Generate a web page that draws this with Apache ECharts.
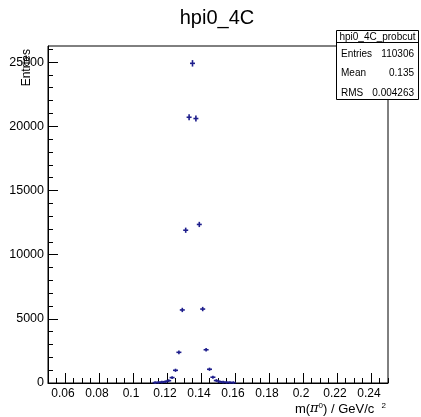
<!DOCTYPE html>
<html><head><meta charset="utf-8">
<script src="https://cdn.jsdelivr.net/npm/echarts@6/dist/echarts.min.js"></script>
<style>html,body{margin:0;padding:0;background:#fff}#c{width:421px;height:417px}</style>
</head><body><div id="c"></div>
<script>
// ---- data ----
const chartTitle = 'hpi0_4C';
const binCenters = [0.113,0.115,0.117,0.119,0.121,0.123,0.125,0.127,0.129,0.131,0.133,0.135,0.137,0.139,0.141,0.143,0.145,0.147,0.149,0.151,0.153,0.155,0.157,0.159];
const entries    = [30,50,70,100,180,420,990,2390,5690,11900,20700,24900,20600,12350,5760,2590,1070,450,190,100,70,50,40,30];
const BIN_WIDTH = 0.002;
const xTickLabels = [0.06,0.08,0.1,0.12,0.14,0.16,0.18,0.2,0.22,0.24];
const yTickLabels = [0,5000,10000,15000,20000,25000];
const statsTitle = 'hpi0_4C_probcut';
const statsNames = ['Entries','Mean','RMS'];
const statsValues = ['110306','0.135','0.004263'];
const yAxisTitle = 'Entries';

const X_MIN = 0.05, X_MAX = 0.25, Y_MIN = 0, Y_MAX = 26250;
const xMinor = [], yMinor = [];
for (let i = 0; i <= 40; i++) xMinor.push(Number((X_MIN + 0.005 * i).toFixed(3)));
for (let v = 0; v <= Y_MAX; v += 1000) yMinor.push(v);

const FONT = 'Liberation Sans';
const MARK = '#1e1e8c';

const chart = echarts.init(document.getElementById('c'), null, {renderer: 'canvas'});
const seriesData = binCenters.map((x, i) => [x, entries[i], Math.sqrt(entries[i])]);

const option = {
  animation: false,
  backgroundColor: '#fff',
  grid: {left: 48, right: 33, top: 46, bottom: 34, show: true, borderColor: '#000', borderWidth: 1, backgroundColor: 'transparent'},
  xAxis: [
    {type: 'value', min: X_MIN, max: X_MAX, position: 'bottom',
     axisLine: {show: true, lineStyle: {color: '#000', width: 1}},
     axisTick: {show: true, inside: true, length: 10, customValues: xTickLabels, lineStyle: {color: '#000', width: 1}},
     axisLabel: {customValues: xTickLabels, color: '#000', fontSize: 12, fontFamily: FONT, margin: 5, padding: [0, 4, 0, 0], formatter: v => String(v)},
     splitLine: {show: false}},
    {type: 'value', min: X_MIN, max: X_MAX, position: 'bottom',
     axisLine: {show: false},
     axisTick: {show: true, inside: true, length: 5, customValues: xMinor, lineStyle: {color: '#000', width: 1}},
     axisLabel: {show: false}, splitLine: {show: false}}
  ],
  yAxis: [
    {type: 'value', min: Y_MIN, max: Y_MAX, position: 'left',
     axisLine: {show: true, lineStyle: {color: '#000', width: 1}},
     axisTick: {show: true, inside: true, length: 10, customValues: yTickLabels, lineStyle: {color: '#000', width: 1}},
     axisLabel: {customValues: yTickLabels, color: '#000', fontSize: 12.5, fontFamily: FONT, margin: 4, formatter: v => String(v)},
     splitLine: {show: false}},
    {type: 'value', min: Y_MIN, max: Y_MAX, position: 'left',
     axisLine: {show: false},
     axisTick: {show: true, inside: true, length: 5, customValues: yMinor, lineStyle: {color: '#000', width: 1}},
     axisLabel: {show: false}, splitLine: {show: false}}
  ],
  series: [{
    type: 'custom', xAxisIndex: 0, yAxisIndex: 0,
    encode: {x: 0, y: 1},
    data: seriesData,
    renderItem: function (params, api) {
      const x = api.value(0), y = api.value(1), e = api.value(2);
      const c = api.coord([x, y]);
      const l = api.coord([x - BIN_WIDTH / 2, y]);
      const r = api.coord([x + BIN_WIDTH / 2, y]);
      const t = api.coord([x, y + e]);
      const b = api.coord([x, y - e]);
      const hw = Math.max((r[0] - l[0]) / 2, 2.5);
      const top = t[1] - 1.2;
      const bot = b[1] + 1.2;
      const st = {stroke: MARK, lineWidth: 1.6};
      return {type: 'group', children: [
        {type: 'line', shape: {x1: c[0] - hw, y1: c[1], x2: c[0] + hw, y2: c[1]}, style: st},
        {type: 'line', shape: {x1: c[0], y1: top, x2: c[0], y2: bot}, style: st}
      ]};
    }
  }],
  graphic: [
    {type: 'text', x: 217, y: 18, style: {text: chartTitle, font: '20px "Liberation Sans"', fill: '#000', align: 'center', verticalAlign: 'middle'}},
    {type: 'text', x: 27, y: 49, rotation: Math.PI / 2, style: {text: yAxisTitle, font: '12px "Liberation Sans"', fill: '#000', align: 'right', verticalAlign: 'middle'}},
    {type: 'text', x: 386, y: 409, style: {
      text: '{n|m(}{p|π}{s|0}{n|) / GeV/c  }{s|2}', align: 'right', verticalAlign: 'middle',
      rich: {
        n: {fontSize: 13, fontFamily: FONT, fill: '#000', lineHeight: 15},
        p: {fontSize: 13, fontFamily: 'DejaVu Serif', fontStyle: 'italic', fill: '#000', lineHeight: 15},
        s: {fontSize: 8, fontFamily: FONT, fill: '#000', verticalAlign: 'top', lineHeight: 15}
      }}},
    // stats box
    {type: 'rect', z: 100, shape: {x: 336.5, y: 30.5, width: 82, height: 69}, style: {fill: '#fff', stroke: '#000', lineWidth: 1}},
    {type: 'line', z: 101, shape: {x1: 336.5, y1: 42.5, x2: 418.5, y2: 42.5}, style: {stroke: '#000', lineWidth: 1}},
    {type: 'text', z: 102, x: 377.5, y: 37, style: {text: statsTitle, font: '10px "Liberation Sans"', fill: '#000', align: 'center', verticalAlign: 'middle'}},
    ...statsNames.map((nm, i) => ({type: 'text', z: 102, x: 341, y: 54 + i * 19.5, style: {text: nm, font: '10px "Liberation Sans"', fill: '#000', align: 'left', verticalAlign: 'middle'}})),
    ...statsValues.map((vl, i) => ({type: 'text', z: 102, x: 414, y: 54 + i * 19.5, style: {text: vl, font: '10px "Liberation Sans"', fill: '#000', align: 'right', verticalAlign: 'middle'}}))
  ]
};
chart.setOption(option);
</script>
</body></html>
